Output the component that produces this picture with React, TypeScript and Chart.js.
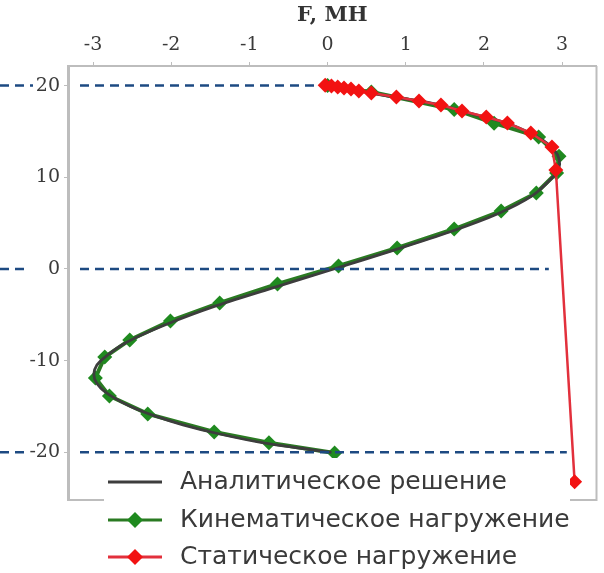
import { useEffect, useRef } from "react";
import { Chart, registerables } from "chart.js";

Chart.register(...registerables);

const xTicks = [-3, -2, -1, 0, 1, 2, 3];
const yTicks = [20, 10, 0, -10, -20];

const analyticY = [20, 19, 18, 17, 16, 15, 14, 13, 12, 11, 10, 8, 6, 4, 2, 0, -2, -4, -6, -8, -10, -11, -12, -13, -14, -15, -16, -17, -18, -19, -20];
const analyticF = [0.0, 0.68, 1.38, 1.82, 2.26, 2.55, 2.76, 2.9, 2.96, 2.96, 2.88, 2.62, 2.17, 1.55, 0.83, 0.08, -0.68, -1.42, -2.05, -2.57, -2.9, -2.98, -2.98, -2.9, -2.74, -2.52, -2.22, -1.85, -1.38, -0.8, 0.05];

const kinematicY = [20.0, 19.3, 17.4, 15.9, 14.4, 12.3, 10.47, 8.29, 6.32, 4.36, 2.29, 0.33, -1.64, -3.71, -5.67, -7.74, -9.6, -11.89, -13.85, -15.81, -17.78, -18.95, -20.07];
const kinematicF = [0.0, 0.56, 1.62, 2.13, 2.7, 2.96, 2.93, 2.67, 2.22, 1.62, 0.89, 0.14, -0.64, -1.38, -2.01, -2.53, -2.85, -2.97, -2.79, -2.3, -1.45, -0.75, 0.09];

const staticY = [20.05, 19.96, 19.85, 19.74, 19.63, 19.41, 19.19, 18.76, 18.32, 17.88, 17.23, 16.58, 15.92, 14.83, 13.3, 10.8, -23.2];
const staticF = [-0.03, 0.05, 0.13, 0.21, 0.3, 0.4, 0.56, 0.88, 1.17, 1.45, 1.72, 2.03, 2.3, 2.6, 2.87, 2.92, 3.16];

const refLineY = [20, 0, -20];
const refLineEndF = [-0.12, 2.83, 3.06];
const refLineLeftEnd = [33, 27, 25];

const seriesLabels = ["Аналитическое решение", "Кинематическое нагружение", "Статическое нагружение"];
const axisTitle = "F, МН";

const COLORS = {
  analytic: "#3d3d3d",
  kinLine: "#2a7a22",
  kinPoint: "#1f8a1f",
  statLine: "#e2303c",
  statPoint: "#f21212",
  ref: "#1d4a82",
  frame: "#bdbdbd",
  text: "#3a3a3a",
};

function pts(xs: number[], ys: number[]) {
  return xs.map((x, i) => ({ x, y: ys[i] }));
}

const overlayPlugin = {
  id: "overlay",
  afterDatasetsDraw(chart: any) {
    const { ctx, chartArea, scales } = chart;
    const xs = scales.x;
    const ys = scales.y;
    ctx.save();
    ctx.strokeStyle = COLORS.frame;
    ctx.lineWidth = 2;
    ctx.beginPath();
    ctx.moveTo(chartArea.left, chartArea.bottom);
    ctx.lineTo(chartArea.right, chartArea.bottom);
    ctx.lineTo(chartArea.right, chartArea.top);
    ctx.stroke();
    ctx.strokeStyle = COLORS.ref;
    ctx.lineWidth = 2.5;
    ctx.setLineDash([9, 6]);
    refLineY.forEach((v, i) => {
      const py = ys.getPixelForValue(v);
      ctx.beginPath();
      ctx.moveTo(0, py);
      ctx.lineTo(refLineLeftEnd[i], py);
      ctx.moveTo(chartArea.left + 12, py);
      ctx.lineTo(xs.getPixelForValue(refLineEndF[i]), py);
      ctx.stroke();
    });
    ctx.setLineDash([]);
    ctx.restore();
  },
  afterDraw(chart: any) {
    const { ctx, chartArea } = chart;
    ctx.save();
    const bx = chartArea.left + 36;
    const by = chartArea.bottom - 42;
    ctx.fillStyle = "#ffffff";
    ctx.fillRect(bx, by, 466, 200);
    const rows = [by + 24, by + 62, by + 99];
    const lineX0 = bx + 4;
    const lineX1 = bx + 58;
    const mx = (lineX0 + lineX1) / 2;
    const lineColors = [COLORS.analytic, COLORS.kinLine, COLORS.statLine];
    const pointColors = [null, COLORS.kinPoint, COLORS.statPoint];
    rows.forEach((ry, i) => {
      ctx.strokeStyle = lineColors[i];
      ctx.lineWidth = 3;
      ctx.beginPath();
      ctx.moveTo(lineX0, ry);
      ctx.lineTo(lineX1, ry);
      ctx.stroke();
      const pc = pointColors[i];
      if (pc) {
        ctx.fillStyle = pc;
        ctx.beginPath();
        ctx.moveTo(mx, ry - 8);
        ctx.lineTo(mx + 8, ry);
        ctx.lineTo(mx, ry + 8);
        ctx.lineTo(mx - 8, ry);
        ctx.closePath();
        ctx.fill();
      }
      ctx.fillStyle = COLORS.text;
      ctx.font = '25px "DejaVu Sans"';
      ctx.textAlign = "left";
      ctx.textBaseline = "middle";
      ctx.fillText(seriesLabels[i], bx + 76, ry);
    });
    ctx.restore();
  },
};

export default function App() {
  const ref = useRef<HTMLCanvasElement | null>(null);
  useEffect(() => {
    if (!ref.current) return;
    const chart = new Chart(ref.current, {
      type: "scatter",
      data: {
        datasets: [
          {
            label: seriesLabels[2],
            data: pts(staticF, staticY),
            showLine: true,
            borderColor: COLORS.statLine,
            borderWidth: 2.5,
            backgroundColor: COLORS.statPoint,
            pointBackgroundColor: COLORS.statPoint,
            pointBorderColor: COLORS.statPoint,
            pointStyle: "rectRot",
            pointRadius: 7.5,
            pointBorderWidth: 0,
            order: 0,
          },
          {
            label: seriesLabels[0],
            data: pts(analyticF, analyticY),
            showLine: true,
            borderColor: COLORS.analytic,
            borderWidth: 2.8,
            pointRadius: 0,
            tension: 0.3,
            order: 1,
          },
          {
            label: seriesLabels[1],
            data: pts(kinematicF, kinematicY),
            showLine: true,
            borderColor: COLORS.kinLine,
            borderWidth: 4,
            backgroundColor: COLORS.kinPoint,
            pointBackgroundColor: COLORS.kinPoint,
            pointBorderColor: COLORS.kinPoint,
            pointStyle: "rectRot",
            pointRadius: 7.5,
            pointBorderWidth: 0,
            order: 2,
          },
        ],
      },
      options: {
        animation: false,
        responsive: false,
        layout: { padding: { left: 0, right: 6, top: 0, bottom: 73 } },
        plugins: { legend: { display: false }, tooltip: { enabled: false } },
        scales: {
          x: {
            type: "linear",
            position: "top",
            min: -3.32,
            max: 3.44,
            afterBuildTicks: (s: any) => {
              s.ticks = xTicks.map((v) => ({ value: v }));
            },
            afterFit: (s: any) => {
              s.height = 66;
            },
            grid: { display: true, drawOnChartArea: false, drawTicks: true, tickLength: 4, color: COLORS.frame },
            border: { display: true, color: COLORS.frame, width: 2 },
            ticks: {
              padding: 6,
              color: COLORS.text,
              font: { family: '"DejaVu Serif"', size: 19 },
              callback: (v: any) => String(v),
            },
            title: {
              display: true,
              text: axisTitle,
              color: "#333",
              font: { family: '"DejaVu Serif"', size: 21, weight: "bold" },
              padding: { top: 3, bottom: 0 },
            },
          },
          y: {
            type: "linear",
            min: -25.2,
            max: 22.14,
            afterBuildTicks: (s: any) => {
              s.ticks = yTicks.map((v) => ({ value: v }));
            },
            afterFit: (s: any) => {
              s.width = 68;
            },
            grid: { display: true, drawOnChartArea: false, drawTicks: true, tickLength: 4, color: COLORS.frame },
            border: { display: true, color: COLORS.frame, width: 3 },
            ticks: {
              padding: 4,
              color: COLORS.text,
              font: { family: '"DejaVu Serif"', size: 19 },
              callback: (v: any) => String(v),
            },
          },
        },
      },
      plugins: [overlayPlugin],
    } as any);
    return () => chart.destroy();
  }, []);
  return (
    <div style={{ position: "fixed", left: 0, top: 0, width: 604, height: 573, background: "#fff" }}>
      <canvas ref={ref} width={604} height={573} style={{ display: "block", width: 604, height: 573 }} />
    </div>
  );
}
